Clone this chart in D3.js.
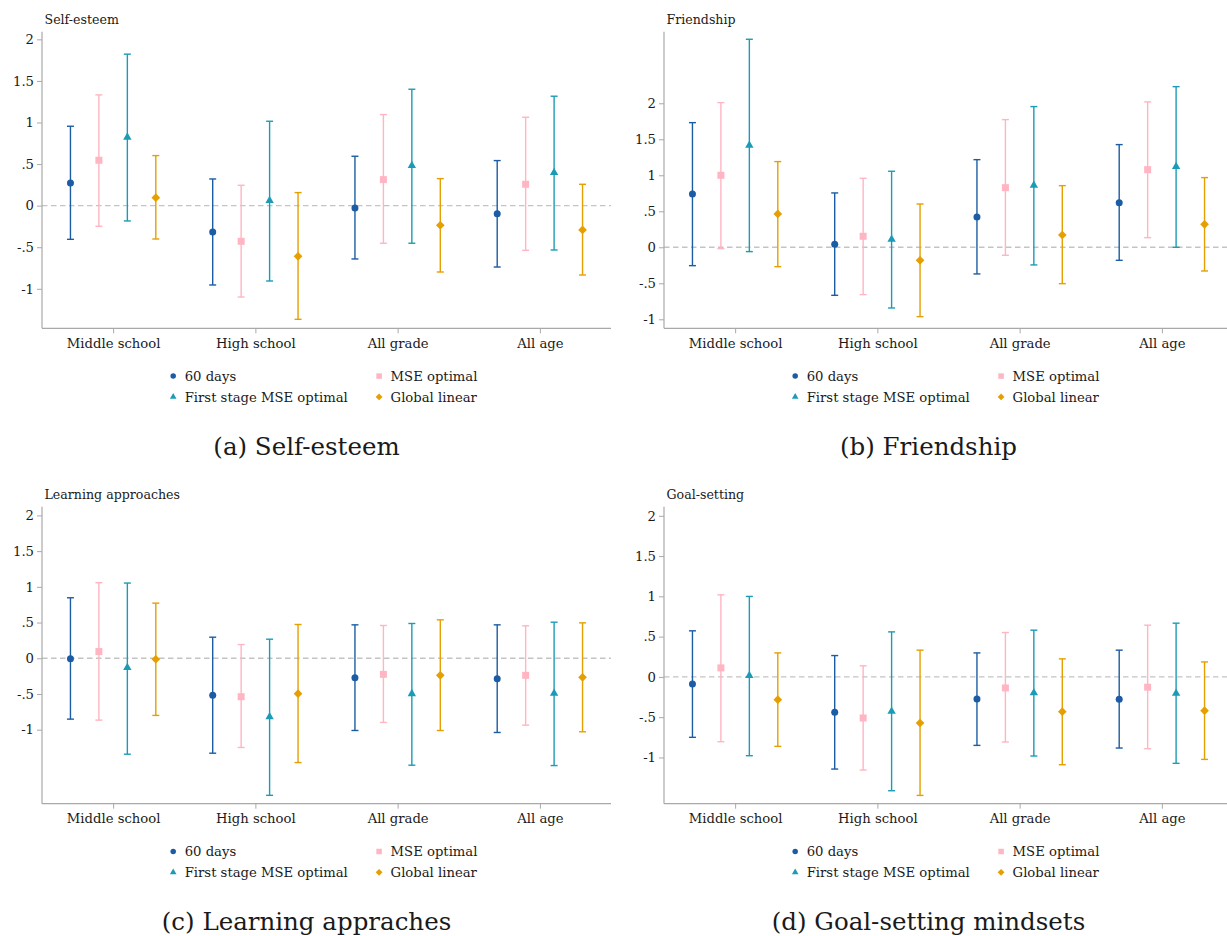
<!DOCTYPE html>
<html>
<head>
<meta charset="utf-8">
<script src="https://cdn.jsdelivr.net/npm/d3@7"></script>
<style>
  html, body { margin: 0; padding: 0; background: #fff; }
  svg { display: block; }
  text { font-family: "DejaVu Serif", "Liberation Serif", serif; fill: #1a1a1a; }
</style>
</head>
<body>
<svg id="fig" width="1227" height="936"></svg>
<script>
// Categories and estimator series
const categories = ["Middle school", "High school", "All grade", "All age"];
const seriesNames = ["60 days", "MSE optimal", "First stage MSE optimal", "Global linear"];
const yTickValues = [-1, -0.5, 0, 0.5, 1, 1.5, 2];

// Point estimates and confidence bounds, one row per series, one column per category
const selfEsteemEst = [
  [0.273, -0.316, -0.028, -0.096],
  [0.546, -0.429, 0.313, 0.257],
  [0.823, 0.060, 0.481, 0.397],
  [0.096, -0.609, -0.236, -0.292]
];
const selfEsteemLo = [
  [-0.405, -0.954, -0.641, -0.738],
  [-0.248, -1.099, -0.452, -0.537],
  [-0.184, -0.906, -0.452, -0.533],
  [-0.401, -1.367, -0.798, -0.834]
];
const selfEsteemHi = [
  [0.955, 0.321, 0.594, 0.542],
  [1.332, 0.245, 1.095, 1.063],
  [1.822, 1.015, 1.400, 1.316],
  [0.602, 0.157, 0.325, 0.257]
];

const friendshipEst = [
  [0.740, 0.042, 0.421, 0.620],
  [1.000, 0.153, 0.828, 1.078],
  [1.417, 0.111, 0.861, 1.120],
  [0.463, -0.181, 0.171, 0.319]
];
const friendshipLo = [
  [-0.255, -0.667, -0.370, -0.181],
  [-0.019, -0.657, -0.111, 0.134],
  [-0.060, -0.843, -0.245, 0.000],
  [-0.269, -0.963, -0.505, -0.329]
];
const friendshipHi = [
  [1.731, 0.755, 1.217, 1.426],
  [2.009, 0.958, 1.773, 2.019],
  [2.889, 1.056, 1.954, 2.231],
  [1.190, 0.601, 0.856, 0.968]
];

const learningEst = [
  [-0.005, -0.519, -0.271, -0.285],
  [0.094, -0.538, -0.225, -0.239],
  [-0.131, -0.819, -0.496, -0.491],
  [-0.014, -0.496, -0.239, -0.267]
];
const learningLo = [
  [-0.852, -1.329, -1.011, -1.039],
  [-0.866, -1.249, -0.898, -0.936],
  [-1.343, -1.919, -1.497, -1.502],
  [-0.800, -1.460, -1.011, -1.029]
];
const learningHi = [
  [0.847, 0.295, 0.468, 0.468],
  [1.058, 0.192, 0.459, 0.454],
  [1.053, 0.267, 0.487, 0.505],
  [0.772, 0.473, 0.538, 0.496]
];

const goalEst = [
  [-0.087, -0.439, -0.274, -0.278],
  [0.112, -0.510, -0.137, -0.128],
  [0.017, -0.427, -0.199, -0.203],
  [-0.282, -0.572, -0.431, -0.419]
];
const goalLo = [
  [-0.750, -1.144, -0.850, -0.883],
  [-0.804, -1.156, -0.808, -0.891],
  [-0.978, -1.413, -0.982, -1.073],
  [-0.862, -1.471, -1.090, -1.024]
];
const goalHi = [
  [0.572, 0.265, 0.298, 0.332],
  [1.019, 0.137, 0.551, 0.642],
  [0.999, 0.559, 0.580, 0.667],
  [0.298, 0.332, 0.224, 0.186]
];

const panelTitles = ["Self-esteem", "Friendship", "Learning approaches", "Goal-setting"];
const panelCaptions = ["(a) Self-esteem", "(b) Friendship", "(c) Learning appraches", "(d) Goal-setting mindsets"];
const panelYDomains = [[-1.475, 2.092], [-1.125, 2.994], [-2.036, 2.122], [-1.574, 2.113]];

// Styling
const seriesColors = ["#1b5ca4", "#ffb5c2", "#1c9bb6", "#e59f00"];
const seriesShapes = ["circle", "square", "triangle", "diamond"];
const seriesOffsets = [-0.3, -0.1, 0.1, 0.3];
const axisColor = "#a9a9a9";

function markerPath(shape, s) {
  // s: nominal marker width in px
  if (shape === "circle") return d3.symbol(d3.symbolCircle, Math.PI * (s / 2) * (s / 2))();
  if (shape === "square") return d3.symbol(d3.symbolSquare, s * s)();
  if (shape === "triangle") {
    const side = s * 1.2;
    return d3.symbol(d3.symbolTriangle, Math.sqrt(3) / 4 * side * side)();
  }
  const h = s * 0.62;
  return `M0,${-h}L${h},0L0,${h}L${-h},0Z`;
}

const fmtTick = v => {
  if (v === 0) return "0";
  let s = String(Math.abs(v));
  if (s.startsWith("0.")) s = s.slice(1);
  return (v < 0 ? "-" : "") + s;
};

const svg = d3.select("#fig");

const panels = [
  { est: selfEsteemEst, lo: selfEsteemLo, hi: selfEsteemHi, left: 42, top: 31.7, bottom: 328.3 },
  { est: friendshipEst, lo: friendshipLo, hi: friendshipHi, left: 664, top: 31.7, bottom: 328.3 },
  { est: learningEst, lo: learningLo, hi: learningHi, left: 42, top: 506.7, bottom: 803.7 },
  { est: goalEst, lo: goalLo, hi: goalHi, left: 664, top: 506.7, bottom: 803.7 }
];
const plotWidth = 569;

panels.forEach((p, i) => {
  const g = svg.append("g");
  const x = d3.scaleLinear().domain([0.5, 4.5]).range([p.left, p.left + plotWidth]);
  const y = d3.scaleLinear().domain(panelYDomains[i]).range([p.bottom, p.top]);

  // Panel title
  g.append("text")
    .attr("x", p.left + 2.5)
    .attr("y", p.top - 8)
    .attr("font-size", 12.6)
    .text(panelTitles[i]);

  // Zero reference line
  g.append("line")
    .attr("x1", x(0.5)).attr("x2", x(4.5))
    .attr("y1", y(0)).attr("y2", y(0))
    .attr("stroke", "#c4c4c4").attr("stroke-width", 1.4)
    .attr("stroke-dasharray", "5.5,3.5");

  // Y axis
  const yAxis = d3.axisLeft(y).tickValues(yTickValues).tickFormat(fmtTick).tickSize(5).tickPadding(3);
  const ya = g.append("g").attr("transform", `translate(${p.left},0)`).call(yAxis);
  ya.select(".domain").attr("d", `M0,${p.top}V${p.bottom}`);

  // X axis
  const xAxis = d3.axisBottom(x).tickValues([1, 2, 3, 4]).tickFormat(d => categories[d - 1]).tickSize(5).tickPadding(5);
  const xa = g.append("g").attr("transform", `translate(0,${p.bottom})`).call(xAxis);
  xa.select(".domain").attr("d", `M${p.left},0H${p.left + plotWidth}`);

  [ya, xa].forEach(ax => {
    ax.select(".domain").attr("stroke", axisColor).attr("stroke-width", 1.2);
    ax.selectAll(".tick line").attr("stroke", axisColor).attr("stroke-width", 1);
    ax.selectAll(".tick text").attr("font-family", "DejaVu Serif, Liberation Serif, serif")
      .attr("font-size", 13.2).attr("fill", "#1a1a1a");
  });
  xa.selectAll(".tick text").attr("dy", "0.71em");

  // Error bars and point estimates
  seriesNames.forEach((name, s) => {
    const sg = g.append("g");
    const rows = categories.map((c, k) => ({
      xv: k + 1 + seriesOffsets[s], est: p.est[s][k], lo: p.lo[s][k], hi: p.hi[s][k]
    }));
    sg.selectAll("line.bar").data(rows).enter().append("line")
      .attr("x1", d => x(d.xv)).attr("x2", d => x(d.xv))
      .attr("y1", d => y(d.lo)).attr("y2", d => y(d.hi))
      .attr("stroke", seriesColors[s]).attr("stroke-width", 1.4);
    ["lo", "hi"].forEach(key => {
      sg.selectAll("line.cap-" + key).data(rows).enter().append("line")
        .attr("x1", d => x(d.xv) - 3.5).attr("x2", d => x(d.xv) + 3.5)
        .attr("y1", d => y(d[key])).attr("y2", d => y(d[key]))
        .attr("stroke", seriesColors[s]).attr("stroke-width", 1.4);
    });
    sg.selectAll("path").data(rows).enter().append("path")
      .attr("d", markerPath(seriesShapes[s], 7))
      .attr("transform", d => `translate(${x(d.xv)},${y(d.est)})`)
      .attr("fill", seriesColors[s]);
  });

  // Legend, two columns by two rows
  const legendY = p.bottom + 47.8;
  seriesNames.forEach((name, s) => {
    const col = s === 0 || s === 2 ? 0 : 1;
    const row = s < 2 ? 0 : 1;
    const mx = p.left + (col === 0 ? 131.2 : 337.1);
    const my = legendY + row * 20.8;
    g.append("path")
      .attr("d", markerPath(seriesShapes[s], 5.5))
      .attr("transform", `translate(${mx},${my})`)
      .attr("fill", seriesColors[s]);
    g.append("text")
      .attr("x", mx + 11.5).attr("y", my)
      .attr("dy", "0.36em")
      .attr("font-size", 13.2)
      .text(name);
  });

  // Sub-figure caption
  g.append("text")
    .attr("x", p.left + 264.5)
    .attr("y", p.bottom + 126.5)
    .attr("text-anchor", "middle")
    .attr("font-size", 24.5)
    .text(panelCaptions[i]);
});
</script>
</body>
</html>
